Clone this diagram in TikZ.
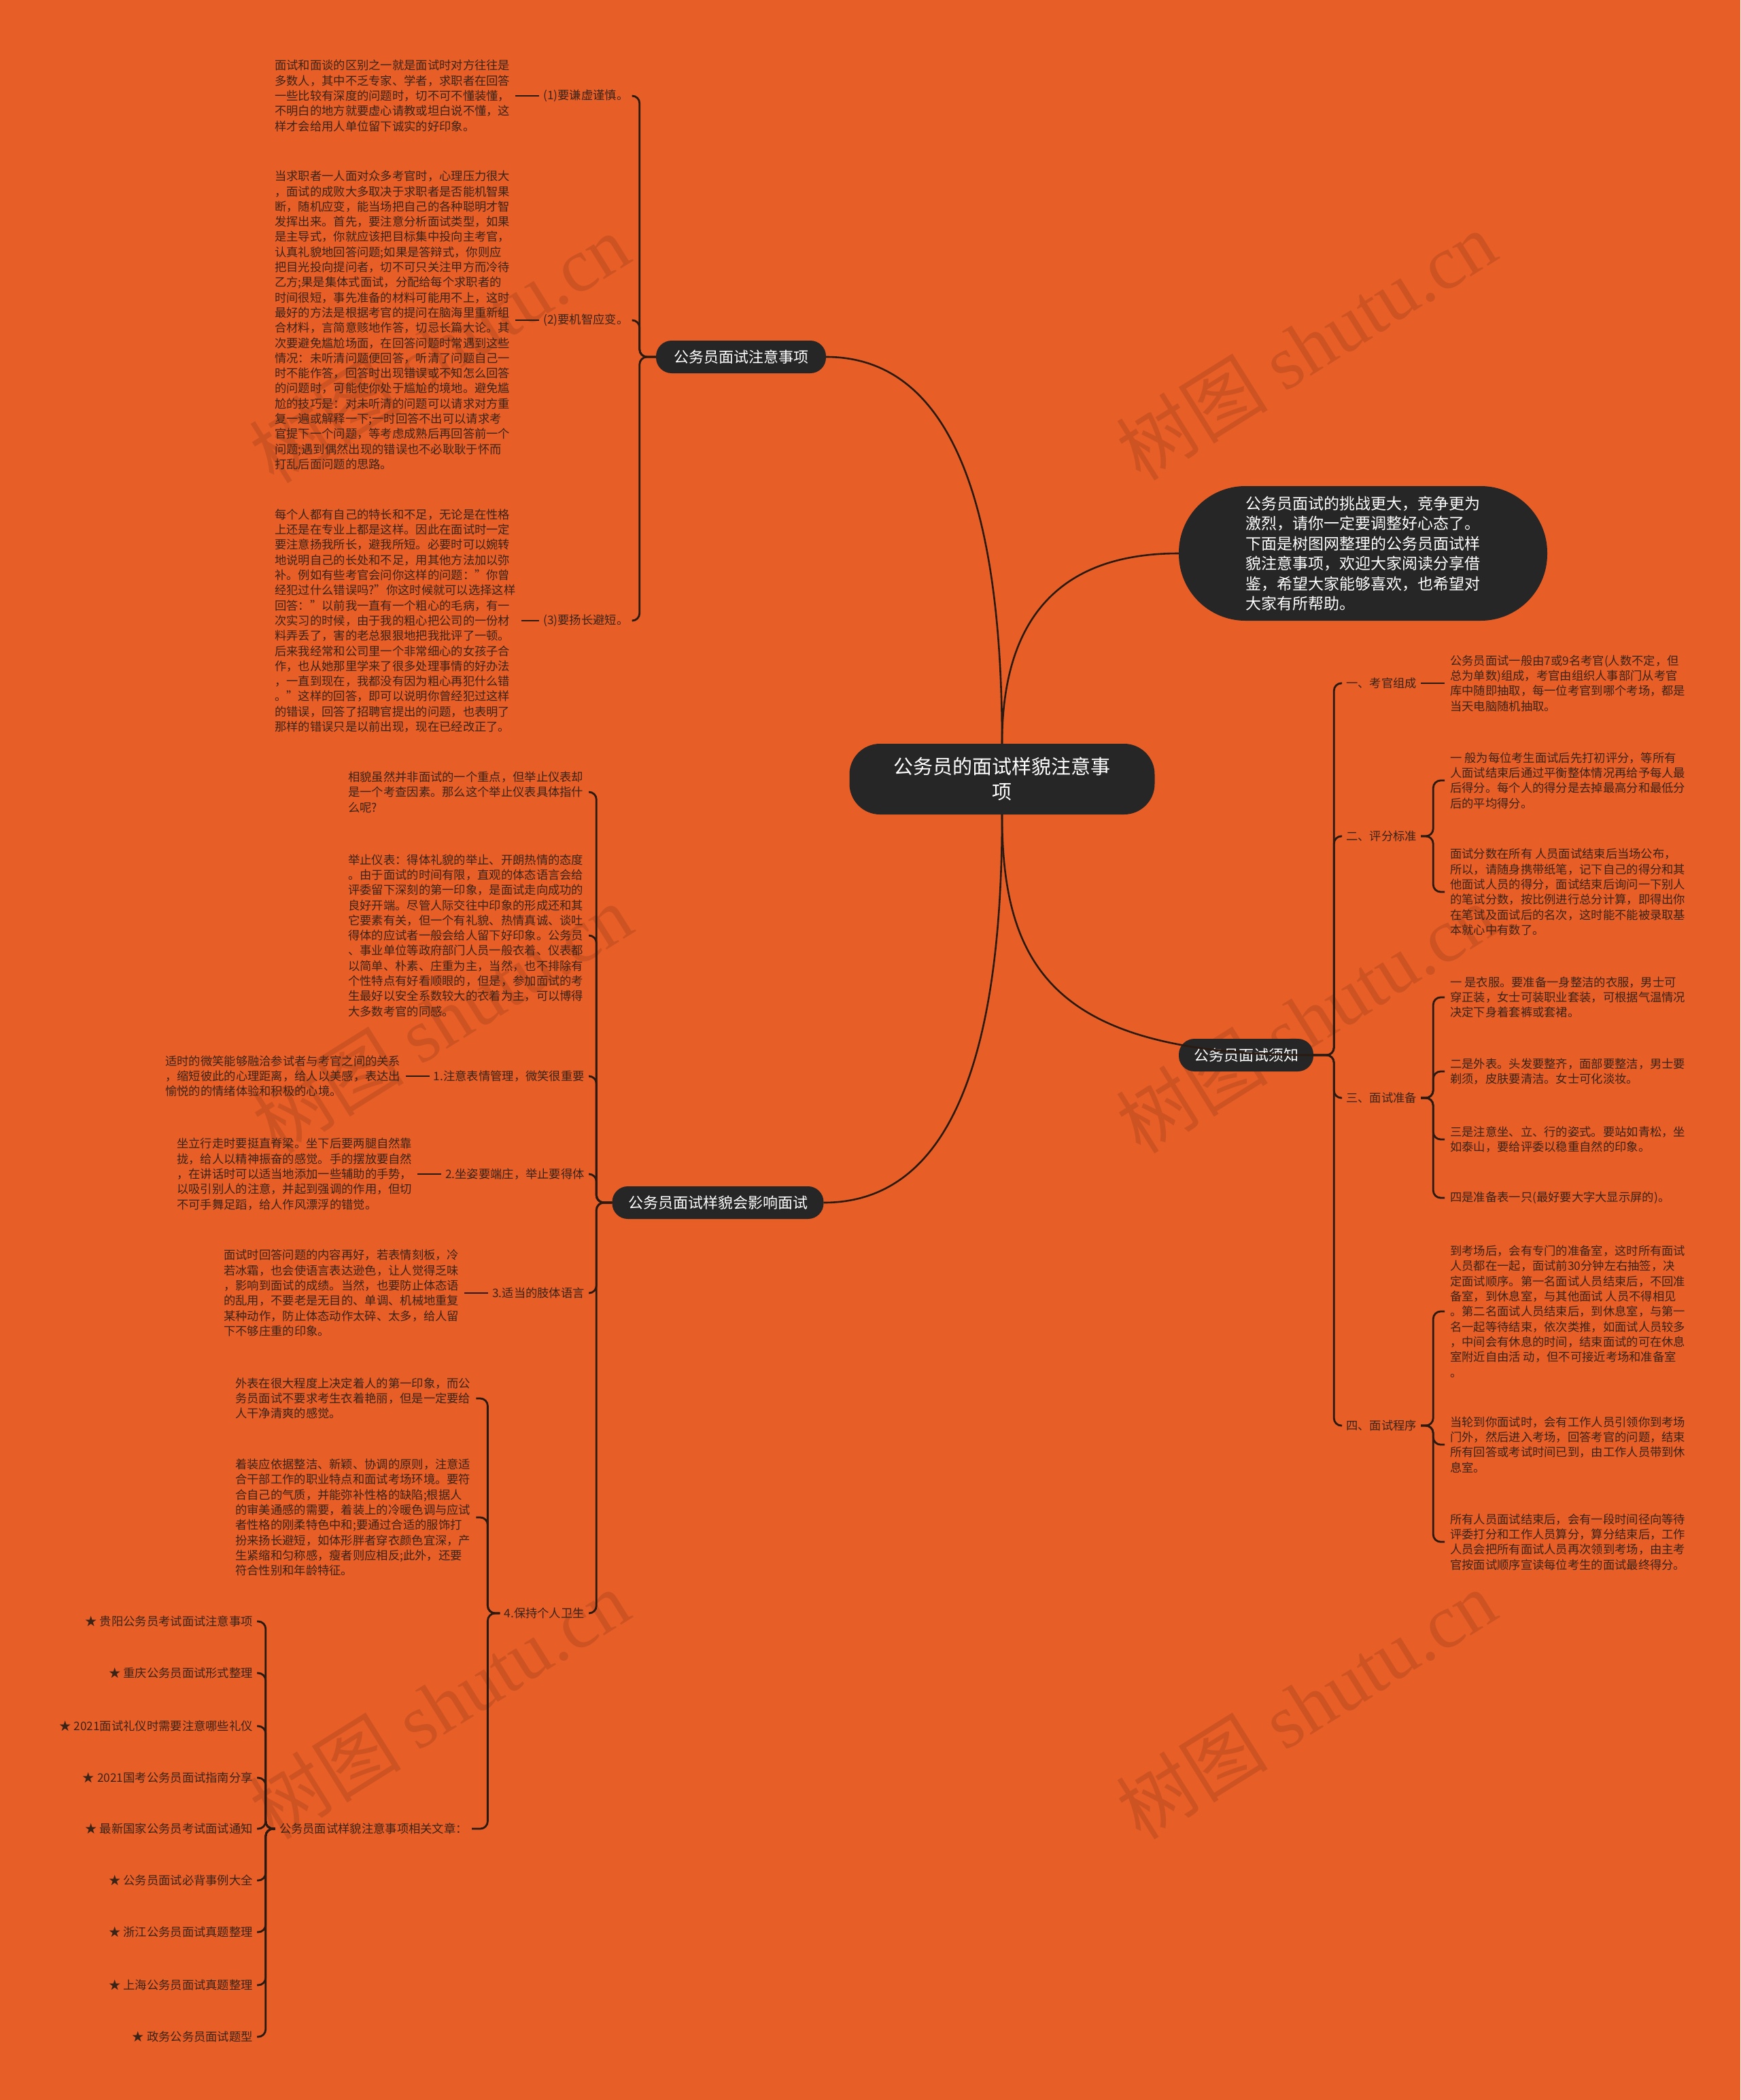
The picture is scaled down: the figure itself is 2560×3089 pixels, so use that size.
\documentclass[tikz,border=0pt]{standalone}
\usepackage{fontspec}
\setmainfont{Noto Sans CJK SC}
\newfontfamily\wmfont{Liberation Serif}
\newfontfamily\cjkfont{Noto Sans CJK SC}
\usetikzlibrary{calc}
\definecolor{bg}{HTML}{E85E27}
\definecolor{ink}{HTML}{3A2418}
\definecolor{lnk}{HTML}{2A1A12}
\definecolor{boxc}{HTML}{262626}
\tikzset{
  txt/.style={font=\fontsize{17.3}{22.3}\selectfont, text=ink, align=left, inner xsep=8pt, inner ysep=2pt},
  lbl/.style={font=\fontsize{17.3}{22.3}\selectfont, text=ink, inner xsep=6pt, inner ysep=2pt},
  conn/.style={draw=lnk, line width=2.8pt, rounded corners=11pt},
  mainline/.style={draw=lnk, line width=2.6pt},
  topic/.style={fill=boxc, text=white, rounded corners=23pt, font=\fontsize{22}{26}\selectfont, minimum height=48pt, inner xsep=14pt},
  wm/.style={text=black, opacity=0.11, rotate=32, font=\fontsize{112}{112}\selectfont},
}
\begin{document}
\begin{tikzpicture}[x=1pt,y=-1pt]
\fill[bg] (0,0) rectangle (2560,3089);
\useasboundingbox (0,0) rectangle (2560,3089);

% watermarks
\foreach \wx/\wy [count=\i] in {646/512,1921/508,650/1498,1921/1498,646/2507,1921/2507}{
  \node[wm] (wm\i) at (\wx,\wy) {{\cjkfont 树图} {\wmfont shutu.cn}};
}

% center and main topics
\node[fill=boxc, text=white, rounded corners=45pt, minimum width=449pt, minimum height=104pt, align=center, font=\fontsize{29}{37}\selectfont] (center) at (1474,1146) {公务员的面试样貌注意事\\项};
\node[topic, minimum width=250pt] (b1) at (1090,525) {公务员面试注意事项};
\node[topic, minimum width=311pt] (b2) at (1056,1769) {公务员面试样貌会影响面试};
\node[topic, minimum width=198pt] (b4) at (1833,1552) {公务员面试须知};
\node[fill=boxc, text=white, rounded corners=98pt, minimum width=542pt, minimum height=198pt, align=left, font=\fontsize{23}{29.5}\selectfont] (intro) at (2005,814) {公务员面试的挑战更大，竞争更为\\激烈，请你一定要调整好心态了。\\下面是树图网整理的公务员面试样\\貌注意事项，欢迎大家阅读分享借\\鉴，希望大家能够喜欢，也希望对\\大家有所帮助。};

\draw[mainline] (center.north) .. controls (1474,715) and (1387,525) .. (b1.east);
\draw[mainline] (center.south) .. controls (1474,1579) and (1387,1769) .. (b2.east);
\draw[mainline] (center.north) .. controls (1474,907) and (1561,814) .. (intro.west);
\draw[mainline] (center.south) .. controls (1474,1434) and (1561,1552) .. (b4.east);

% ---------- branch 1
\node[lbl, anchor=west] (l1) at (793,141) {(1)要谦虚谨慎。};
\node[lbl, anchor=west] (l2) at (793,471) {(2)要机智应变。};
\node[lbl, anchor=west] (l3) at (793,913) {(3)要扬长避短。};
\node[txt, anchor=west] (t1) at (396,141) {面试和面谈的区别之一就是面试时对方往往是\\多数人，其中不乏专家、学者，求职者在回答\\一些比较有深度的问题时，切不可不懂装懂，\\不明白的地方就要虚心请教或坦白说不懂，这\\样才会给用人单位留下诚实的好印象。};
\node[txt, anchor=west] (t2) at (396,471) {当求职者一人面对众多考官时，心理压力很大\\，面试的成败大多取决于求职者是否能机智果\\断，随机应变，能当场把自己的各种聪明才智\\发挥出来。首先，要注意分析面试类型，如果\\是主导式，你就应该把目标集中投向主考官，\\认真礼貌地回答问题;如果是答辩式，你则应\\把目光投向提问者，切不可只关注甲方而冷待\\乙方;果是集体式面试，分配给每个求职者的\\时间很短，事先准备的材料可能用不上，这时\\最好的方法是根据考官的提问在脑海里重新组\\合材料，言简意赅地作答，切忌长篇大论。其\\次要避免尴尬场面，在回答问题时常遇到这些\\情况：未听清问题便回答，听清了问题自己一\\时不能作答，回答时出现错误或不知怎么回答\\的问题时，可能使你处于尴尬的境地。避免尴\\尬的技巧是：对未听清的问题可以请求对方重\\复一遍或解释一下;一时回答不出可以请求考\\官提下一个问题，等考虑成熟后再回答前一个\\问题;遇到偶然出现的错误也不必耿耿于怀而\\打乱后面问题的思路。};
\node[txt, anchor=west] (t3) at (396,913) {每个人都有自己的特长和不足，无论是在性格\\上还是在专业上都是这样。因此在面试时一定\\要注意扬我所长，避我所短。必要时可以婉转\\地说明自己的长处和不足，用其他方法加以弥\\补。例如有些考官会问你这样的问题："你曾\\经犯过什么错误吗?"你这时候就可以选择这样\\回答："以前我一直有一个粗心的毛病，有一\\次实习的时候，由于我的粗心把公司的一份材\\料弄丢了，害的老总狠狠地把我批评了一顿。\\后来我经常和公司里一个非常细心的女孩子合\\作，也从她那里学来了很多处理事情的好办法\\，一直到现在，我都没有因为粗心再犯什么错\\。"这样的回答，即可以说明你曾经犯过这样\\的错误，回答了招聘官提出的问题，也表明了\\那样的错误只是以前出现，现在已经改正了。};
\foreach \n in {1,2,3}{
  \draw[conn] (b1.west) -- ++(-24,0) |- (l\n.east);
  \draw[conn] (t\n.east) -- (l\n.west);
}

% ---------- branch 2
\node[txt, anchor=west] (tA) at (504,1165) {相貌虽然并非面试的一个重点，但举止仪表却\\是一个考查因素。那么这个举止仪表具体指什\\么呢?};
\node[txt, anchor=west] (tB) at (504,1376) {举止仪表：得体礼貌的举止、开朗热情的态度\\。由于面试的时间有限，直观的体态语言会给\\评委留下深刻的第一印象，是面试走向成功的\\良好开端。尽管人际交往中印象的形成还和其\\它要素有关，但一个有礼貌、热情真诚、谈吐\\得体的应试者一般会给人留下好印象。公务员\\、事业单位等政府部门人员一般衣着、仪表都\\以简单、朴素、庄重为主，当然，也不排除有\\个性特点有好看顺眼的，但是，参加面试的考\\生最好以安全系数较大的衣着为主，可以博得\\大多数考官的同感。};
\node[lbl, anchor=east] (lC) at (866,1583) {1.注意表情管理，微笑很重要};
\node[lbl, anchor=east] (lD) at (866,1727) {2.坐姿要端庄，举止要得体};
\node[lbl, anchor=east] (lE) at (866,1902) {3.适当的肢体语言};
\node[lbl, anchor=east] (lF) at (866,2373) {4.保持个人卫生};
\node[txt, anchor=west] (tC) at (235,1583) {适时的微笑能够融洽参试者与考官之间的关系\\，缩短彼此的心理距离，给人以美感，表达出\\愉悦的的情绪体验和积极的心境。};
\node[txt, anchor=west] (tD) at (252,1727) {坐立行走时要挺直脊梁。坐下后要两腿自然靠\\拢，给人以精神振奋的感觉。手的摆放要自然\\，在讲话时可以适当地添加一些辅助的手势，\\以吸引别人的注意，并起到强调的作用，但切\\不可手舞足蹈，给人作风漂浮的错觉。};
\node[txt, anchor=west] (tE) at (321,1902) {面试时回答问题的内容再好，若表情刻板，冷\\若冰霜，也会使语言表达逊色，让人觉得乏味\\，影响到面试的成绩。当然，也要防止体态语\\的乱用，不要老是无目的、单调、机械地重复\\某种动作，防止体态动作太碎、太多，给人留\\下不够庄重的印象。};
\foreach \n in {A,B}{
  \draw[conn] (b2.west) -- ++(-23,0) |- (t\n.east);
}
\foreach \n in {C,D,E,F}{
  \draw[conn] (b2.west) -- ++(-23,0) |- (l\n.east);
}
\foreach \n in {C,D,E}{
  \draw[conn] (t\n.east) -- (l\n.west);
}

\node[txt, anchor=west] (tF1) at (338,2057) {外表在很大程度上决定着人的第一印象，而公\\务员面试不要求考生衣着艳丽，但是一定要给\\人干净清爽的感觉。};
\node[txt, anchor=west] (tF2) at (338,2232) {着装应依据整洁、新颖、协调的原则，注意适\\合干部工作的职业特点和面试考场环境。要符\\合自己的气质，并能弥补性格的缺陷;根据人\\的审美通感的需要，着装上的冷暖色调与应试\\者性格的刚柔特色中和;要通过合适的服饰打\\扮来扬长避短，如体形胖者穿衣颜色宜深，产\\生紧缩和匀称感，瘦者则应相反;此外，还要\\符合性别和年龄特征。};
\node[lbl, anchor=east] (lG) at (694,2690) {公务员面试样貌注意事项相关文章：};
\draw[conn] (lF.west) -- ++(-18,0) |- (tF1.east);
\draw[conn] (lF.west) -- ++(-18,0) |- (tF2.east);
\draw[conn] (lF.west) -- ++(-18,0) |- (lG.east);

\foreach \s/\yy [count=\k] in {贵阳公务员考试面试注意事项/2385, 重庆公务员面试形式整理/2461, 2021面试礼仪时需要注意哪些礼仪/2539, 2021国考公务员面试指南分享/2615, 最新国家公务员考试面试通知/2690, 公务员面试必背事例大全/2766, 浙江公务员面试真题整理/2842, 上海公务员面试真题整理/2920, 政务公务员面试题型/2996}{
  \node[lbl, anchor=east] (s\k) at (378,\yy) {★ \s};
  \draw[conn] (lG.west) -- ++(-14,0) |- (s\k.east);
}

% ---------- branch 4 (right)
\node[lbl, anchor=west] (r1) at (1974,1005) {一、考官组成};
\node[lbl, anchor=west] (r2) at (1974,1230) {二、评分标准};
\node[lbl, anchor=west] (r3) at (1974,1615) {三、面试准备};
\node[lbl, anchor=west] (r4) at (1974,2097) {四、面试程序};
\foreach \n in {1,2,3,4}{
  \draw[conn] (b4.east) -- ++(30,0) |- (r\n.west);
}
\node[txt, anchor=west] (r1a) at (2125,1005) {公务员面试一般由7或9名考官(人数不定，但\\总为单数)组成，考官由组织人事部门从考官\\库中随即抽取，每一位考官到哪个考场，都是\\当天电脑随机抽取。};
\draw[conn] (r1.east) -- (r1a.west);

\node[txt, anchor=west] (r2a) at (2125,1148) {一 般为每位考生面试后先打初评分，等所有\\人面试结束后通过平衡整体情况再给予每人最\\后得分。每个人的得分是去掉最高分和最低分\\后的平均得分。};
\node[txt, anchor=west] (r2b) at (2125,1312) {面试分数在所有 人员面试结束后当场公布，\\所以，请随身携带纸笔，记下自己的得分和其\\他面试人员的得分，面试结束后询问一下别人\\的笔试分数，按比例进行总分计算，即得出你\\在笔试及面试后的名次，这时能不能被录取基\\本就心中有数了。};
\foreach \n in {a,b}{
  \draw[conn] (r2.east) -- ++(18,0) |- (r2\n.west);
}

\node[txt, anchor=west] (r3a) at (2125,1467) {一 是衣服。要准备一身整洁的衣服，男士可\\穿正装，女士可装职业套装，可根据气温情况\\决定下身着套裤或套裙。};
\node[txt, anchor=west] (r3b) at (2125,1576) {二是外表。头发要整齐，面部要整洁，男士要\\剃须，皮肤要清洁。女士可化淡妆。};
\node[txt, anchor=west] (r3c) at (2125,1676) {三是注意坐、立、行的姿式。要站如青松，坐\\如泰山，要给评委以稳重自然的印象。};
\node[txt, anchor=west] (r3d) at (2125,1762) {四是准备表一只(最好要大字大显示屏的)。};
\foreach \n in {a,b,c,d}{
  \draw[conn] (r3.east) -- ++(18,0) |- (r3\n.west);
}

\node[txt, anchor=west] (r4a) at (2125,1929) {到考场后，会有专门的准备室，这时所有面试\\人员都在一起，面试前30分钟左右抽签，决\\定面试顺序。第一名面试人员结束后，不回准\\备室，到休息室，与其他面试 人员不得相见\\。第二名面试人员结束后，到休息室，与第一\\名一起等待结束，依次类推，如面试人员较多\\，中间会有休息的时间，结束面试的可在休息\\室附近自由活 动，但不可接近考场和准备室\\。};
\node[txt, anchor=west] (r4b) at (2125,2125) {当轮到你面试时，会有工作人员引领你到考场\\门外，然后进入考场，回答考官的问题，结束\\所有回答或考试时间已到，由工作人员带到休\\息室。};
\node[txt, anchor=west] (r4c) at (2125,2268) {所有人员面试结束后，会有一段时间径向等待\\评委打分和工作人员算分，算分结束后，工作\\人员会把所有面试人员再次领到考场，由主考\\官按面试顺序宣读每位考生的面试最终得分。};
\foreach \n in {a,b,c}{
  \draw[conn] (r4.east) -- ++(18,0) |- (r4\n.west);
}
\end{tikzpicture}
\end{document}
